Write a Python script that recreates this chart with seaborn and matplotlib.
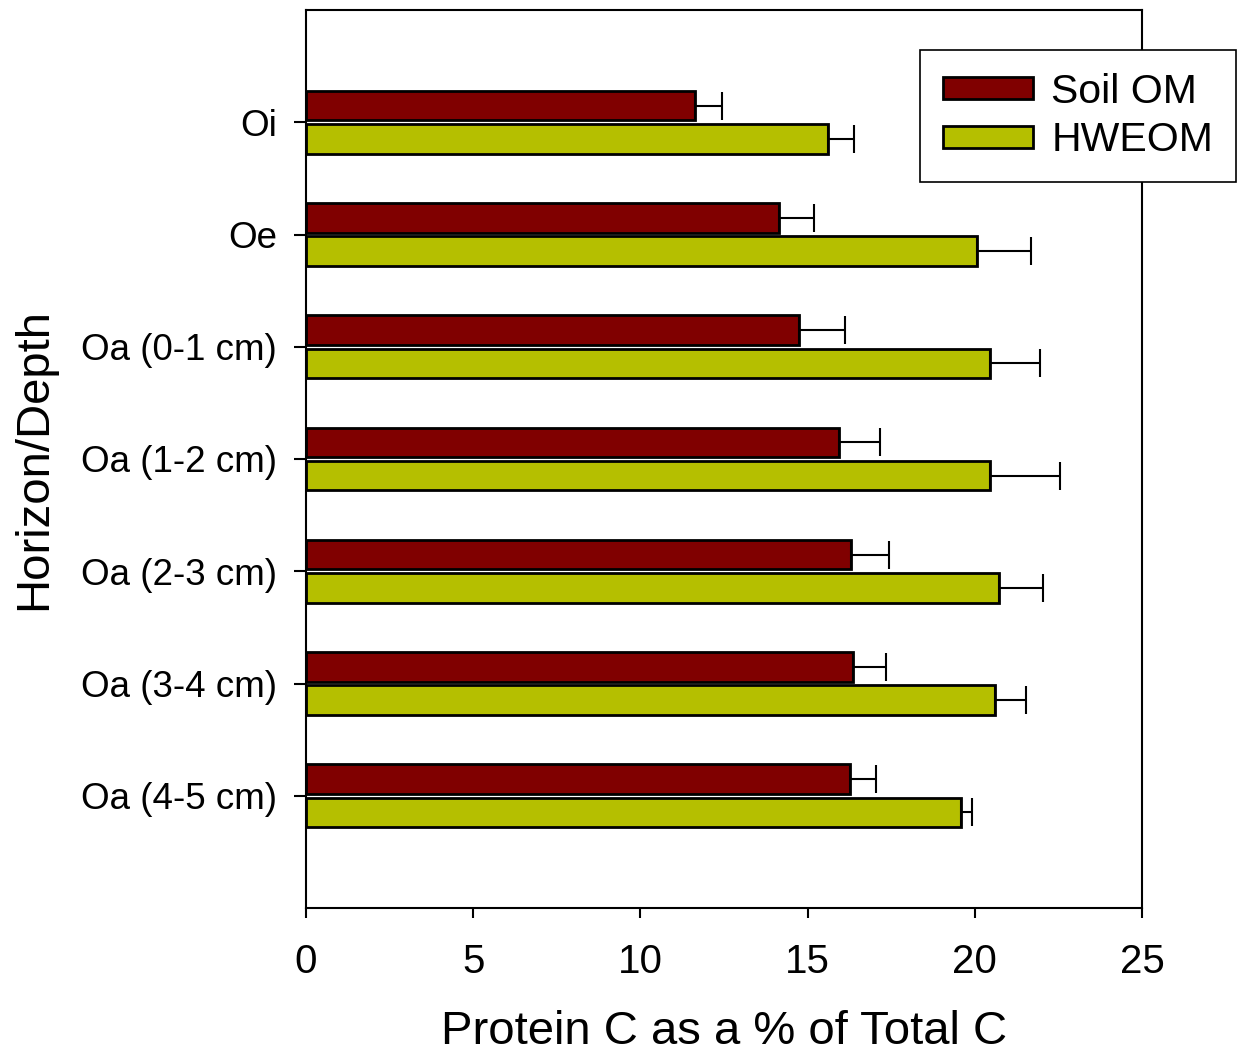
import matplotlib
matplotlib.use("Agg")
import matplotlib.pyplot as plt
import seaborn as sns
import pandas as pd
import numpy as np
from matplotlib.patches import Patch

categories = ["Oi", "Oe", "Oa (0-1 cm)", "Oa (1-2 cm)", "Oa (2-3 cm)", "Oa (3-4 cm)", "Oa (4-5 cm)"]
series = ["Soil OM", "HWEOM"]
soil_om = [11.63, 14.14, 14.74, 15.94, 16.30, 16.36, 16.27]
soil_om_err = [0.81, 1.05, 1.38, 1.22, 1.14, 0.99, 0.78]
hweom = [15.61, 20.07, 20.45, 20.45, 20.72, 20.60, 19.59]
hweom_err = [0.78, 1.61, 1.50, 2.10, 1.32, 0.93, 0.33]
colors = ["#800000", "#B5BF00"]
x_ticks = [0, 5, 10, 15, 20, 25]

df = pd.DataFrame({
    "Horizon": categories * 2,
    "Series": [series[0]] * len(categories) + [series[1]] * len(categories),
    "Value": soil_om + hweom,
})
errs = {series[0]: soil_om_err, series[1]: hweom_err}
vals = {series[0]: soil_om, series[1]: hweom}

sns.set_style("ticks")
plt.rcParams["font.family"] = ["Liberation Sans", "DejaVu Sans"]
plt.rcParams.update({"text.color": "black", "axes.labelcolor": "black",
                     "xtick.color": "black", "ytick.color": "black",
                     "axes.edgecolor": "black"})

fig = plt.figure(figsize=(12.38, 10.53), dpi=100)
ax = fig.add_axes([306 / 1238, 1 - 908 / 1053, (1142 - 306) / 1238, (908 - 10) / 1053])

sns.barplot(data=df, y="Horizon", x="Value", hue="Series", order=categories,
            hue_order=series, palette=colors, saturation=1, orient="h", width=0.59, gap=0.11,
            edgecolor="black", linewidth=2, errorbar=None, ax=ax, legend=False)

# error bars (one-sided) placed at the bar centres seaborn computed
for container, s in zip(ax.containers, series):
    ys = [p.get_y() + p.get_height() / 2 for p in container.patches]
    ax.errorbar(vals[s], ys, xerr=[np.zeros(len(ys)), errs[s]], fmt="none",
                ecolor="black", elinewidth=1.5, capsize=10, capthick=1.5)

ax.set_xlim(0, 25)
ax.set_ylim(len(categories), -1)
ax.set_xticks(x_ticks)
ax.set_xticklabels([str(t) for t in x_ticks])
for sp in ax.spines.values():
    sp.set_visible(True)
    sp.set_color("black")
    sp.set_linewidth(1.5)
ax.tick_params(axis="x", direction="out", length=7, width=1.5, pad=18, labelsize=29)
ax.tick_params(axis="y", direction="out", length=9, width=1.5, pad=12, labelsize=26.5)
ax.set_xlabel("Protein C as a % of Total C", fontsize=34, labelpad=21)
ax.set_ylabel("Horizon/Depth", fontsize=34, labelpad=18)

handles = [Patch(facecolor=c, edgecolor="black", linewidth=2, label=s) for c, s in zip(colors, series)]
leg = fig.legend(handles=handles, loc="upper right", bbox_to_anchor=(1236 / 1238, 1 - 50 / 1053),
                 bbox_transform=fig.transFigure, fontsize=29.5, frameon=True, fancybox=False,
                 edgecolor="black", framealpha=1, handlelength=2.2, handleheight=0.45,
                 borderpad=0.56, labelspacing=0.25, handletextpad=0.45, borderaxespad=0)
leg.get_frame().set_linewidth(1.2)

fig.savefig("out.png", dpi=100)
